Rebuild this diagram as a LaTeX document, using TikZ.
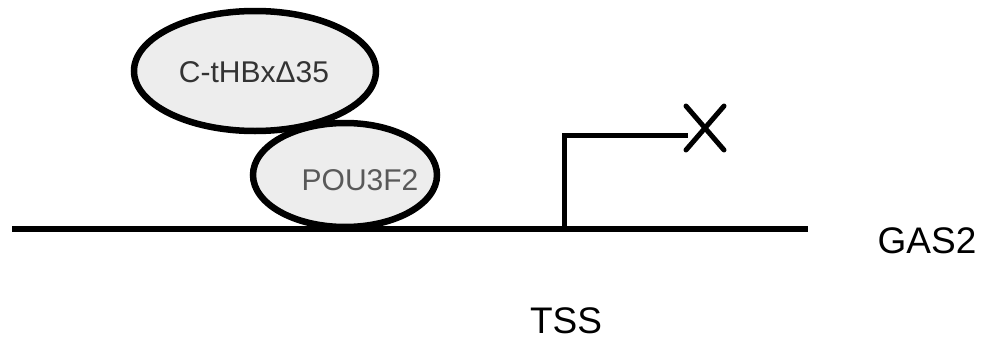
\documentclass[tikz,border=0pt]{standalone}
\usepackage{fontspec}
\setmainfont{Liberation Sans}
\usetikzlibrary{shapes.geometric,calc}
\begin{document}
\begin{tikzpicture}[x=1pt,y=-1pt,
  protein/.style={draw=black,line width=6.5pt,fill=gray!14,ellipse,inner sep=0pt},
  pname/.style={font=\fontsize{30}{32}\selectfont},
  dna/.style={line width=6pt},
  label/.style={font=\fontsize{37}{40}\selectfont}]
\useasboundingbox (0,0) rectangle (985,340);
% DNA strand
\coordinate (left) at (12,229);
\coordinate (right) at (808,229);
\draw[dna] (left) -- (right);
% bound proteins
\node[protein,minimum width=184pt,minimum height=104pt] (pou) at (345,175) {};
\node[pname,text=gray!70!black] (poutext) at (360,180) {POU3F2};
\node[protein,minimum width=242pt,minimum height=120pt] (hbx) at (255,71) {};
\node[pname,text=black!80] (hbxtext) at (254,72) {C-tHBxΔ35};
% transcription start site, blocked
\coordinate (tss0) at (564,229);
\coordinate (tss1) at (564,135);
\coordinate (tss2) at (688,135);
\draw[line width=5pt] (tss0) -- (tss1) -- (tss2);
\coordinate (xc) at (705,128);
\draw[line width=5pt,line cap=round] ($(xc)+(-19,-22)$) -- ($(xc)+(19,22)$);
\draw[line width=5pt,line cap=round] ($(xc)+(19,-22)$) -- ($(xc)+(-19,22)$);
% labels
\node[label] (gas) at (927,241) {GAS2};
\node[label] (tss) at (566,321) {TSS};
\end{tikzpicture}
\end{document}
